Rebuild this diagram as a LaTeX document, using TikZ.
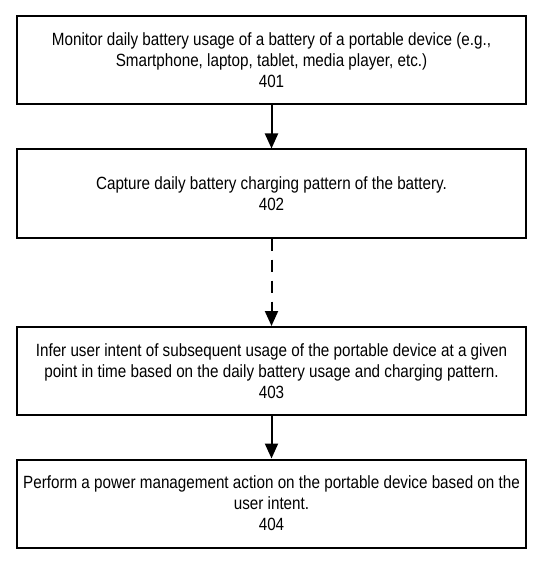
\documentclass[tikz,border=0pt]{standalone}
\usepackage{fontspec}
\setmainfont{Liberation Sans}[FakeStretch=0.86]
\usetikzlibrary{arrows.meta}
\begin{document}
\begin{tikzpicture}[x=1pt,y=-1pt,
  stepbox/.style={draw=black,line width=2pt,minimum width=509pt,minimum height=88pt,
    align=center,inner sep=0pt,font=\fontsize{17.7}{21}\selectfont},
  flow/.style={line width=2pt,-{Triangle[length=15pt,width=13pt]}}]
\useasboundingbox (0,0) rectangle (550,561);
\fill[white] (0,0) rectangle (550,561);
\node[stepbox] (b1) at (271.5,60) {Monitor daily battery usage of a battery of a portable device (e.g.,\\Smartphone, laptop, tablet, media player, etc.)\\401};
\node[stepbox] (b2) at (271.5,193.5) {Capture daily battery charging pattern of the battery.\\402};
\node[stepbox] (b3) at (271.5,371) {Infer user intent of subsequent usage of the portable device at a given\\point in time based on the daily battery usage and charging pattern.\\403};
\node[stepbox] (b4) at (271.5,503.5) {Perform a power management action on the portable device based on the\\user intent.\\404};
\draw[flow] (b1) -- (b2);
\draw[flow,dash pattern=on 12pt off 9pt] (b2) -- (b3);
\draw[flow] (b3) -- (b4);
\end{tikzpicture}
\end{document}
